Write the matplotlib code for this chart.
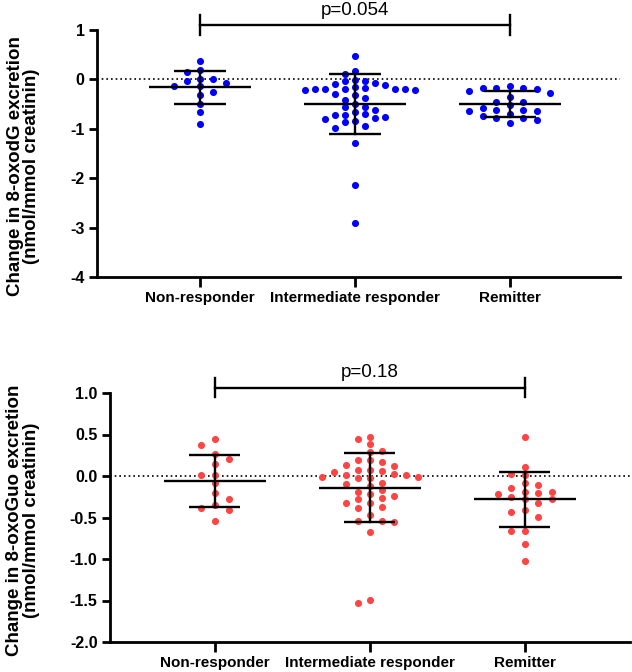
import numpy as np
import matplotlib
matplotlib.use("Agg")
import matplotlib.pyplot as plt
from matplotlib.ticker import FormatStrFormatter

plt.rcParams['font.family'] = ['Liberation Sans', 'DejaVu Sans']
plt.rcParams['axes.unicode_minus'] = False

groups = ["Non-responder", "Intermediate responder", "Remitter"]

# top panel: 8-oxodG
oxodg_nonresp = [0.37, 0.20, 0.15, -0.04, 0.01, -0.07, 0.00, -0.14, -0.14, -0.25,
                 -0.32, -0.50, -0.66, -0.91]
oxodg_inter = [0.47, 0.17, 0.11, -0.01, -0.04, -0.03, -0.10, -0.12, -0.08, -0.22,
               -0.20, -0.20, -0.20, -0.20, -0.16, -0.22, -0.20, -0.18, -0.30, -0.32,
               -0.37, -0.41, -0.49, -0.55, -0.56, -0.62, -0.70, -0.72, -0.80, -0.72,
               -0.67, -0.78, -0.76, -0.87, -0.85, -0.95, -0.99, -1.29, -2.14, -2.91]
oxodg_remit = [-0.18, -0.18, -0.20, -0.24, -0.14, -0.18, -0.28, -0.35, -0.57, -0.45,
               -0.61, -0.51, -0.63, -0.64, -0.45, -0.61, -0.75, -0.89, -0.79, -0.82,
               -0.79, -0.70]
oxodg_mean = [-0.16, -0.50, -0.50]
oxodg_sd = [0.34, 0.60, 0.26]
oxodg_p = "p=0.054"

# bottom panel: 8-oxoGuo
oxoguo_nonresp = [0.44, 0.37, 0.27, 0.21, 0.14, 0.01, 0.01, -0.08, -0.20, -0.28,
                  -0.35, -0.38, -0.41, -0.54]
oxoguo_inter = [0.47, 0.44, 0.38, 0.30, 0.29, 0.19, 0.19, 0.17, 0.13, 0.12,
                0.07, 0.05, 0.07, 0.06, 0.01, 0.01, 0.02, -0.01, -0.01, -0.03,
                -0.03, -0.08, -0.10, -0.12, -0.17, -0.19, -0.22, -0.26, -0.24, -0.28,
                -0.33, -0.32, -0.37, -0.39, -0.47, -0.54, -0.54, -0.55, -0.67, -1.53,
                -1.49]
oxoguo_remit = [0.47, 0.11, 0.03, 0.01, -0.09, -0.11, -0.15, -0.19, -0.19, -0.22,
                -0.20, -0.28, -0.28, -0.25, -0.32, -0.41, -0.43, -0.49, -0.66, -0.66,
                -0.82, -1.03]
oxoguo_mean = [-0.06, -0.14, -0.28]
oxoguo_sd = [0.31, 0.42, 0.33]
oxoguo_p = "p=0.18"


def swarm_offsets(vals, ypx, xpx, step_px, gap_px=7.0):
    # column style swarm like GraphPad: points share a column only if far enough apart
    vals = np.asarray(vals, dtype=float)
    offs = np.zeros(len(vals))
    cols = {}
    nleft = nright = 0
    for i in np.argsort(-vals):
        y = vals[i] * ypx
        for m in range(0, 30):
            if m == 0:
                cands = [0]
            elif nright < nleft:
                cands = [m, -m]
            else:
                cands = [-m, m]
            placed = False
            for k in cands:
                if all(abs(y - yy) >= gap_px for yy in cols.get(k, [])):
                    cols.setdefault(k, []).append(y)
                    offs[i] = k * step_px / xpx
                    if k > 0:
                        nright += 1
                    elif k < 0:
                        nleft += 1
                    placed = True
                    break
            if placed:
                break
    return offs


def draw_panel(ax, data, means, sds, color, xlim, ylim, yticks, fmt, steps,
               ylabel, ptext, bracket_y, bracket_h, text_y):
    ax.set_xlim(*xlim)
    ax.set_ylim(*ylim)
    fig.canvas.draw()
    xpx = ax.bbox.width / (xlim[1] - xlim[0])
    ypx = ax.bbox.height / (ylim[1] - ylim[0])

    ax.axhline(0, color='black', lw=1.2, ls=(0, (1, 1.8)), zorder=1)
    for i, vals in enumerate(data):
        offs = swarm_offsets(vals, ypx, xpx, steps[i])
        ax.scatter(i + offs, vals, s=26, color=color, linewidths=0, zorder=2)
        m, sd = means[i], sds[i]
        ax.plot([i - 0.33, i + 0.33], [m, m], color='black', lw=1.7, zorder=3,
                solid_capstyle='butt')
        for yy in (m - sd, m + sd):
            ax.plot([i - 0.165, i + 0.165], [yy, yy], color='black', lw=1.7,
                    zorder=3, solid_capstyle='butt')
        ax.plot([i, i], [m - sd, m + sd], color='black', lw=1.7, zorder=3)

    # significance bracket above the plot
    ax.plot([0, 2], [bracket_y, bracket_y], color='black', lw=1.7, clip_on=False)
    for xx in (0, 2):
        ax.plot([xx, xx], [bracket_y - bracket_h, bracket_y + bracket_h],
                color='black', lw=1.7, clip_on=False)
    ax.text(1, text_y, ptext, ha='center', va='baseline', fontsize=13.5)

    ax.spines['top'].set_visible(False)
    ax.spines['right'].set_visible(False)
    for sp in ('left', 'bottom'):
        ax.spines[sp].set_linewidth(2)
    ax.set_yticks(yticks)
    ax.yaxis.set_major_formatter(FormatStrFormatter(fmt))
    ax.set_xticks(range(3))
    ax.set_xticklabels(groups, fontweight='bold', fontsize=11)
    ax.tick_params(axis='x', length=7, width=2, pad=3)
    ax.tick_params(axis='y', length=6, width=2, pad=3, labelsize=11.5)
    for lab in ax.get_yticklabels():
        lab.set_fontweight('bold')
    ax.set_ylabel(ylabel, fontsize=13.5, fontweight='bold', linespacing=0.95)


fig = plt.figure(figsize=(6.32, 6.72), dpi=100)
ax1 = fig.add_axes([97 / 632, 1 - 277 / 672, 523 / 632, 247 / 672])
ax2 = fig.add_axes([110 / 632, 30 / 672, 520 / 632, 249 / 672])

draw_panel(ax1, [oxodg_nonresp, oxodg_inter, oxodg_remit], oxodg_mean, oxodg_sd,
           '#0000ff', (-0.665, 2.71), (-4, 1), [1, 0, -1, -2, -3, -4], '%d',
           [13, 10, 13.5],
           "Change in 8-oxodG excretion\n(nmol/mmol creatinin)",
           oxodg_p, 1.10, 0.2, 1.30)
ax1.yaxis.set_label_coords(-0.109, 0.45)

draw_panel(ax2, [oxoguo_nonresp, oxoguo_inter, oxoguo_remit], oxoguo_mean, oxoguo_sd,
           '#ff4444', (-0.677, 2.68), (-2, 1), [1.0, 0.5, 0.0, -0.5, -1.0, -1.5, -2.0],
           '%.1f', [14, 12, 13.5],
           "Change in 8-oxoGuo excretion\n(nmol/mmol creatinin)",
           oxoguo_p, 1.064, 0.115, 1.196)
ax2.yaxis.set_label_coords(-0.135, 0.49)

fig.savefig("out.png", dpi=100)
